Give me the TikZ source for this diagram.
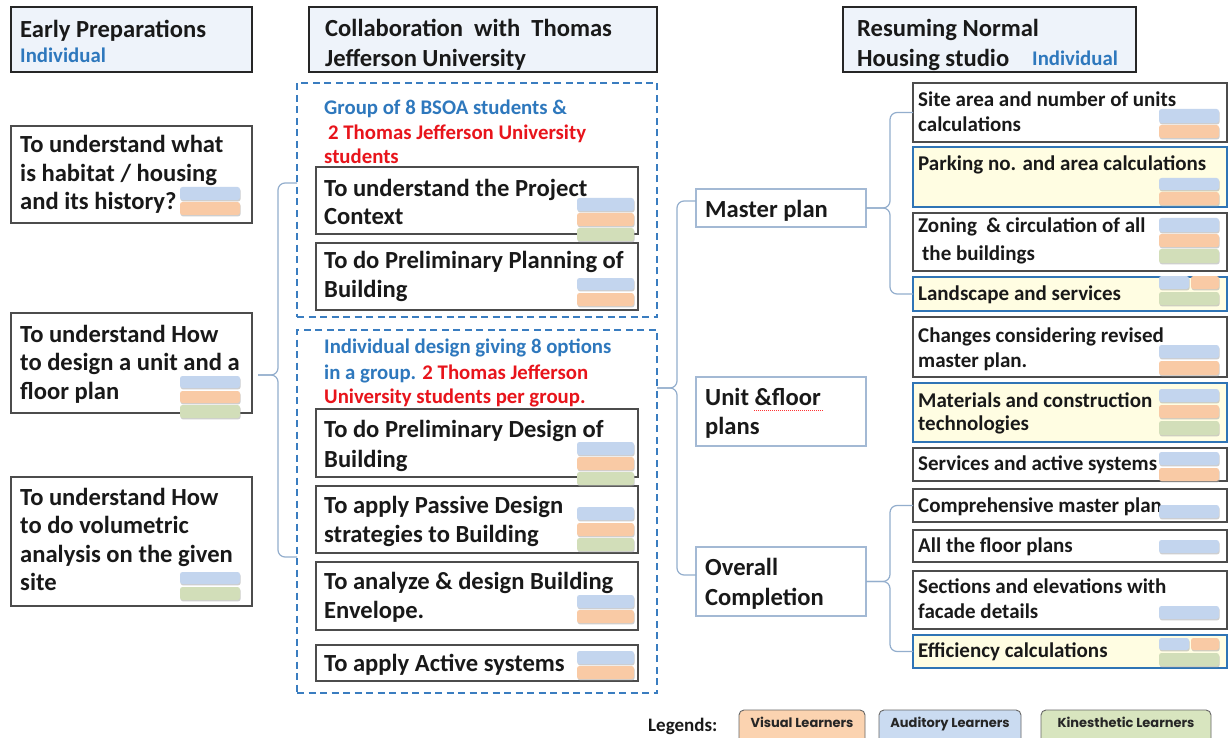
\documentclass[tikz,border=0pt]{standalone}
\usepackage{fontspec}
\setmainfont{Carlito}
\newfontfamily\legfont{Poppins}
\usetikzlibrary{calc}
\definecolor{hdrfill}{HTML}{EEF3FA}
\definecolor{dashblue}{HTML}{3A7DC0}
\definecolor{txtblue}{HTML}{2E78BD}
\definecolor{txtred}{HTML}{E8141B}
\definecolor{barB}{HTML}{C3D5EE}
\definecolor{barO}{HTML}{F9CAA5}
\definecolor{barG}{HTML}{D2DEB9}
\definecolor{mpline}{HTML}{A3B9D4}
\definecolor{bracecol}{HTML}{93AECD}
\definecolor{yelfill}{HTML}{FFFDE2}
\definecolor{yelline}{HTML}{2F74B5}
\definecolor{legO}{HTML}{FBD3B0}
\definecolor{legB}{HTML}{CADBF1}
\definecolor{legG}{HTML}{D8E5BF}
\tikzset{
  hdr/.style={draw=black!85, line width=1.8pt, fill=hdrfill},
  plain/.style={draw=black!70, line width=1.1pt, fill=white},
  mpbox/.style={draw=mpline, line width=1.3pt, fill=white},
  ybox/.style={draw=yelline, line width=2.6pt, fill=yelfill},
  dbox/.style={draw=dashblue, line width=1.8pt, dash pattern=on 7pt off 4.5pt},
  legbox/.style={draw=black!60, line width=0.9pt, rounded corners=5pt},
  brace/.style={draw=bracecol, line width=1.2pt, rounded corners=7pt},
  tx/.style={inner sep=0pt, anchor=base west, text=black!90},
  tbig/.style={tx, font=\fontsize{24.6}{29}\selectfont\bfseries},
  tsm/.style={tx, font=\fontsize{21}{24}\selectfont\bfseries},
  tnb/.style={tx, text=txtblue, font=\fontsize{20.8}{24}\selectfont\bfseries},
  tnr/.style={tx, text=txtred, font=\fontsize{20.8}{24}\selectfont\bfseries},
  tleg/.style={inner sep=0pt, anchor=mid, text=black!85, font=\legfont\fontsize{13}{15}\selectfont\bfseries},
}
\newcommand\bx[6]{\node[#2, inner sep=0pt, outer sep=0pt, anchor=north west,
  minimum width={#5pt-#3pt}, minimum height={#6pt-#4pt}] (#1) at (#3,#4) {};}
\newcounter{tn}
\newcommand\txline[4]{\stepcounter{tn}\node[#1] (txt\arabic{tn}) at (#2,#3) {#4};}
\newcommand\lrnbar[5]{%
  \fill[black!35, opacity=.55, rounded corners=2.5pt] (#1+0.6,#2+1.4) rectangle (#3+0.6,#4+1.4);
  \fill[#5, rounded corners=2.5pt] (#1,#2) rectangle (#3,#4);}
\begin{document}
\begin{tikzpicture}[x=1pt,y=-1pt]
\useasboundingbox (0,0) rectangle (1229,738);
\clip (0,0) rectangle (1229,738);
\fill[white] (0,0) rectangle (1229,738);

% headers
\bx{H1}{hdr}{11}{7}{252}{72}
\bx{H2}{hdr}{309}{7}{657}{72}
\bx{H3}{hdr}{843}{7}{1136}{72}
\txline{tbig}{20}{38}{Early Preparations}
\txline{tnb}{20}{63}{Individual}
\txline{tbig}{325}{37}{Collaboration\ \ with\ \ Thomas}
\txline{tbig}{325}{67}{Jefferson University}
\txline{tbig}{857}{37}{Resuming Normal}
\txline{tbig}{857}{67}{Housing studio}
\txline{tnb}{1032}{66}{Individual}

% dashed group boxes
\bx{D1}{dbox}{297}{83}{657}{317}
\bx{D2}{dbox}{297}{330}{657}{693}
\txline{tnb}{324}{115}{Group of 8 BSOA students \&}
\txline{tnr}{328}{139.5}{2 Thomas Jefferson University}
\txline{tnr}{324}{164}{students}
\txline{tnb}{324}{353}{Individual design giving 8 options}
\txline{tnb}{324}{379}{in a group. {\color{txtred}2 Thomas Jefferson}}
\txline{tnr}{324}{403}{University students per group.}

% left column
\bx{L1}{plain}{11}{126}{252}{223}
\bx{L2}{plain}{11}{313}{252}{413}
\bx{L3}{plain}{11}{477}{252}{606}
\txline{tbig}{20}{153}{To understand what}
\txline{tbig}{20}{181.5}{is habitat / housing}
\txline{tbig}{20}{210}{and its history?}
\txline{tbig}{20}{342}{To understand How}
\txline{tbig}{20}{370.5}{to design a unit and a}
\txline{tbig}{20}{399}{floor plan}
\txline{tbig}{20}{505}{To understand How}
\txline{tbig}{20}{533}{to do volumetric}
\txline{tbig}{20}{562}{analysis on the given}
\txline{tbig}{20}{590}{site}

% middle column
\bx{M1}{plain}{316}{167}{638}{234}
\bx{M2}{plain}{316}{243}{638}{310}
\bx{M3}{plain}{316}{409}{638}{477}
\bx{M4}{plain}{316}{486}{638}{553}
\bx{M5}{plain}{316}{562}{638}{630}
\bx{M6}{plain}{316}{645}{638}{681}
\txline{tbig}{324}{197}{To understand the Project}
\txline{tbig}{324}{225}{Context}
\txline{tbig}{324}{269}{To do Preliminary Planning of}
\txline{tbig}{324}{298}{Building}
\txline{tbig}{324}{437}{To do Preliminary Design of}
\txline{tbig}{324}{467}{Building}
\txline{tbig}{324}{513}{To apply Passive Design}
\txline{tbig}{324}{542}{strategies to Building}
\txline{tbig}{324}{589}{To analyze \& design Building}
\txline{tbig}{324}{618}{Envelope.}
\txline{tbig}{324}{671}{To apply Active systems}

% phase boxes
\bx{MP}{mpbox}{696}{189}{866}{227}
\bx{UF}{mpbox}{696}{377}{866}{446}
\bx{OC}{mpbox}{696}{547}{866}{616}
\txline{tbig}{705}{218}{Master plan}
\txline{tbig}{705}{405}{Unit \&floor}
\txline{tbig}{705}{434}{plans}
\txline{tbig}{705}{575}{Overall}
\txline{tbig}{705}{605}{Completion}
\draw[red!80, line width=0.6pt, dash pattern=on 1pt off 1pt] (754,410) -- (824,410);

% right column
\bx{R1}{plain}{913}{83}{1227}{142}
\bx{R2}{ybox}{913}{147}{1227}{207}
\bx{R3}{plain}{913}{213}{1227}{271}
\bx{R4}{ybox}{913}{277}{1227}{311}
\bx{R5}{plain}{913}{317}{1227}{377}
\bx{R6}{ybox}{913}{383}{1227}{442}
\bx{R7}{plain}{913}{448}{1227}{481}
\bx{R8}{plain}{913}{489}{1227}{522}
\bx{R9}{plain}{913}{530}{1227}{562}
\bx{R10}{plain}{913}{571}{1227}{629}
\bx{R11}{ybox}{913}{635}{1227}{668}
\txline{tsm}{918}{107}{Site area and number of units}
\txline{tsm}{918}{132}{calculations}
\txline{tsm}{918}{171}{Parking no. and area calculations}
\txline{tsm}{918}{233}{Zoning\ \ \& circulation of all}
\txline{tsm}{922}{260}{the buildings}
\txline{tsm}{918}{300}{Landscape and services}
\txline{tsm}{918}{342}{Changes considering revised}
\txline{tsm}{918}{367}{master plan.}
\txline{tsm}{918}{407}{Materials and construction}
\txline{tsm}{918}{430}{technologies}
\txline{tsm}{918}{470}{Services and active systems}
\txline{tsm}{918}{512}{Comprehensive master plan}
\txline{tsm}{918}{552}{All the floor plans}
\txline{tsm}{918}{593}{Sections and elevations with}
\txline{tsm}{918}{618}{facade details}
\txline{tsm}{918}{657}{Efficiency calculations}

% braces
\coordinate (lt) at (258,375);
\coordinate (d1l) at (297,183);
\coordinate (d2l) at (297,557);
\draw[brace] (lt) -- ++(20,0) |- (d1l);
\draw[brace] (lt) -- ++(20,0) |- (d2l);
\coordinate (dt) at (657,388);
\coordinate (mpl) at (696,201);
\coordinate (ocl) at (696,575);
\draw[brace] (dt) -- ++(20,0) |- (mpl);
\draw[brace] (dt) -- ++(20,0) |- (ocl);
\draw[brace] (MP.east) -- ++(24,0) |- (R1.west);
\draw[brace] (MP.east) -- ++(24,0) |- (R4.west);
\draw[brace] (OC.east) -- ++(24,0) |- (R8.west);
\draw[brace] (OC.east) -- ++(24,0) |- (R11.west);

% learner bars: left
\lrnbar{180}{187}{240}{200}{barB}
\lrnbar{180}{202}{240}{215}{barO}
\lrnbar{180}{376}{240}{388}{barB}
\lrnbar{180}{391}{240}{403}{barO}
\lrnbar{180}{405}{240}{418}{barG}
\lrnbar{180}{572}{240}{584}{barB}
\lrnbar{180}{587}{240}{600}{barG}
% middle
\lrnbar{577}{198}{634}{211}{barB}
\lrnbar{577}{213}{634}{226}{barO}
\lrnbar{577}{228}{634}{241}{barG}
\lrnbar{577}{278}{634}{290}{barB}
\lrnbar{577}{293}{634}{306}{barO}
\lrnbar{577}{442}{634}{455}{barB}
\lrnbar{577}{457}{634}{470}{barO}
\lrnbar{577}{472}{634}{485}{barG}
\lrnbar{577}{507}{634}{520}{barB}
\lrnbar{577}{523}{634}{536}{barO}
\lrnbar{577}{538}{634}{551}{barG}
\lrnbar{577}{595}{634}{608}{barB}
\lrnbar{577}{610}{634}{623}{barO}
\lrnbar{577}{651}{634}{664}{barB}
\lrnbar{577}{666}{634}{679}{barO}
% right
\lrnbar{1159}{109}{1219}{123}{barB}
\lrnbar{1159}{125}{1219}{138}{barO}
\lrnbar{1159}{178}{1219}{190}{barB}
\lrnbar{1159}{192}{1219}{205}{barO}
\lrnbar{1159}{218}{1219}{232}{barB}
\lrnbar{1159}{234}{1219}{247}{barO}
\lrnbar{1159}{249}{1219}{263}{barG}
\lrnbar{1159}{276}{1189}{289}{barB}
\lrnbar{1191}{276}{1219}{289}{barO}
\lrnbar{1159}{292}{1219}{305}{barG}
\lrnbar{1159}{345}{1219}{358}{barB}
\lrnbar{1159}{361}{1219}{375}{barO}
\lrnbar{1159}{389}{1219}{402}{barB}
\lrnbar{1159}{405}{1219}{418}{barO}
\lrnbar{1159}{421}{1219}{435}{barG}
\lrnbar{1159}{452}{1219}{465}{barB}
\lrnbar{1159}{468}{1219}{481}{barO}
\lrnbar{1159}{505}{1219}{518}{barB}
\lrnbar{1159}{540}{1219}{553}{barB}
\lrnbar{1159}{606}{1219}{619}{barB}
\lrnbar{1159}{638}{1189}{650}{barB}
\lrnbar{1191}{638}{1219}{650}{barO}
\lrnbar{1159}{653}{1219}{666}{barG}

% legend
\txline{tbig}{648}{731}{\fontsize{19}{22}\selectfont Legends:}
\bx{LV}{legbox, fill=legO}{739}{710}{865}{750}
\bx{LA}{legbox, fill=legB}{879}{710}{1021}{750}
\bx{LK}{legbox, fill=legG}{1041}{710}{1211}{750}
\node[tleg] (lvt) at (802,725) {Visual Learners};
\node[tleg] (lat) at (950,725) {Auditory Learners};
\node[tleg] (lkt) at (1126,725) {Kinesthetic Learners};
\end{tikzpicture}
\end{document}
